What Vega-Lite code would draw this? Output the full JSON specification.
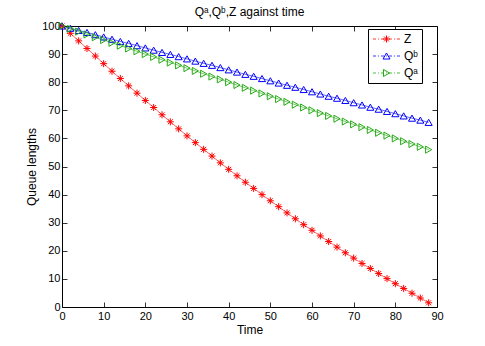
{
  "$schema": "https://vega.github.io/schema/vega-lite/v6.json",
  "width": 375,
  "height": 281,
  "autosize": {"type": "none"},
  "padding": {"left": 62, "top": 26, "right": 48, "bottom": 39},
  "background": "white",
  "title": {"text": "Qᵃ,Qᵇ,Z against time", "font": "Liberation Sans", "fontSize": 12, "fontWeight": "normal", "color": "black", "offset": 1},
  "config": {
    "view": {"stroke": "black", "strokeWidth": 1},
    "axis": {
      "domain": false,
      "grid": false,
      "tickSize": -5,
      "tickColor": "black",
      "tickWidth": 0.8,
      "labelFont": "Liberation Sans",
      "labelFontSize": 11,
      "labelColor": "black",
      "labelFlush": false,
      "labelOverlap": false,
      "labelBound": false,
      "titleFont": "Liberation Sans",
      "titleFontSize": 12,
      "titleFontWeight": "normal",
      "titleColor": "black"
    }
  },
  "data": {
    "values": [
      {"t": 0, "Z": 100, "Qb": 100, "Qa": 100},
      {"t": 2, "Z": 97.4, "Qb": 99.2, "Qa": 99},
      {"t": 4, "Z": 94.7, "Qb": 98.4, "Qa": 98},
      {"t": 6, "Z": 92.0, "Qb": 97.7, "Qa": 97},
      {"t": 8, "Z": 89.3, "Qb": 96.9, "Qa": 96},
      {"t": 10, "Z": 86.6, "Qb": 96.1, "Qa": 95},
      {"t": 12, "Z": 83.9, "Qb": 95.3, "Qa": 94},
      {"t": 14, "Z": 81.3, "Qb": 94.5, "Qa": 93},
      {"t": 16, "Z": 78.7, "Qb": 93.8, "Qa": 92},
      {"t": 18, "Z": 76.1, "Qb": 93.0, "Qa": 91},
      {"t": 20, "Z": 73.5, "Qb": 92.2, "Qa": 90},
      {"t": 22, "Z": 71.0, "Qb": 91.4, "Qa": 89},
      {"t": 24, "Z": 68.4, "Qb": 90.6, "Qa": 88},
      {"t": 26, "Z": 65.9, "Qb": 89.9, "Qa": 87},
      {"t": 28, "Z": 63.4, "Qb": 89.1, "Qa": 86},
      {"t": 30, "Z": 60.9, "Qb": 88.3, "Qa": 85},
      {"t": 32, "Z": 58.5, "Qb": 87.5, "Qa": 84},
      {"t": 34, "Z": 56.1, "Qb": 86.7, "Qa": 83},
      {"t": 36, "Z": 53.7, "Qb": 86.0, "Qa": 82},
      {"t": 38, "Z": 51.3, "Qb": 85.2, "Qa": 81},
      {"t": 40, "Z": 49.0, "Qb": 84.4, "Qa": 80},
      {"t": 42, "Z": 46.7, "Qb": 83.6, "Qa": 79},
      {"t": 44, "Z": 44.4, "Qb": 82.8, "Qa": 78},
      {"t": 46, "Z": 42.2, "Qb": 82.1, "Qa": 77},
      {"t": 48, "Z": 40.0, "Qb": 81.3, "Qa": 76},
      {"t": 50, "Z": 37.8, "Qb": 80.5, "Qa": 75},
      {"t": 52, "Z": 35.7, "Qb": 79.7, "Qa": 74},
      {"t": 54, "Z": 33.5, "Qb": 78.9, "Qa": 73},
      {"t": 56, "Z": 31.4, "Qb": 78.2, "Qa": 72},
      {"t": 58, "Z": 29.3, "Qb": 77.4, "Qa": 71},
      {"t": 60, "Z": 27.3, "Qb": 76.6, "Qa": 70},
      {"t": 62, "Z": 25.3, "Qb": 75.8, "Qa": 69},
      {"t": 64, "Z": 23.3, "Qb": 75.0, "Qa": 68},
      {"t": 66, "Z": 21.3, "Qb": 74.3, "Qa": 67},
      {"t": 68, "Z": 19.3, "Qb": 73.5, "Qa": 66},
      {"t": 70, "Z": 17.4, "Qb": 72.7, "Qa": 65},
      {"t": 72, "Z": 15.5, "Qb": 71.9, "Qa": 64},
      {"t": 74, "Z": 13.7, "Qb": 71.1, "Qa": 63},
      {"t": 76, "Z": 11.9, "Qb": 70.4, "Qa": 62},
      {"t": 78, "Z": 10.1, "Qb": 69.6, "Qa": 61},
      {"t": 80, "Z": 8.3, "Qb": 68.8, "Qa": 60},
      {"t": 82, "Z": 6.6, "Qb": 68.0, "Qa": 59},
      {"t": 84, "Z": 4.9, "Qb": 67.2, "Qa": 58},
      {"t": 86, "Z": 3.2, "Qb": 66.5, "Qa": 57},
      {"t": 88, "Z": 1.5, "Qb": 65.7, "Qa": 56}
    ]
  },
  "transform": [{"fold": ["Z", "Qb", "Qa"], "as": ["s", "v"]}],
  "layer": [
    {
      "mark": {"type": "line", "strokeWidth": 0.6},
      "encoding": {
        "x": {"field": "t", "type": "quantitative", "scale": {"domain": [0, 90], "nice": false},
              "axis": {"orient": "bottom", "title": "Time", "values": [0, 10, 20, 30, 40, 50, 60, 70, 80, 90], "labelPadding": 8, "titlePadding": 3}},
        "y": {"field": "v", "type": "quantitative", "scale": {"domain": [0, 100], "nice": false},
              "axis": {"orient": "left", "title": "Queue lengths", "values": [0, 10, 20, 30, 40, 50, 60, 70, 80, 90, 100], "labelPadding": 7, "titlePadding": 3}},
        "color": {
          "field": "s", "type": "nominal",
          "scale": {"domain": ["Z", "Qb", "Qa"], "range": ["#ff0000", "#0000ff", "#22aa11"]},
          "legend": {
            "title": null,
            "orient": "none",
            "legendX": 306,
            "legendY": 3,
            "padding": 4,
            "fillColor": "white",
            "strokeColor": "black",
            "symbolType": "M-1.43,0H6.29",
            "symbolSize": 49,
            "symbolStrokeWidth": 0.8,
            "symbolDash": [3, 2, 1, 2],
            "labelOffset": 20,
            "rowPadding": 5,
            "labelFont": "Liberation Sans",
            "labelFontSize": 12,
            "labelColor": "black",
            "labelExpr": "(datum.label == 'Qb' ? 'Qᵇ' : datum.label == 'Qa' ? 'Qᵃ' : datum.label) + '\u00a0\u00a0\u00a0\u00a0\u00a0\u00a0\u00a0\u00a0'"
          }
        }
      }
    },
    {
      "mark": {"type": "point", "filled": false, "size": 50, "strokeWidth": 1, "opacity": 1},
      "encoding": {
        "x": {"field": "t", "type": "quantitative",
              "axis": {"orient": "top", "title": null, "labels": false, "values": [0, 10, 20, 30, 40, 50, 60, 70, 80, 90]}},
        "y": {"field": "v", "type": "quantitative",
              "axis": {"orient": "right", "title": null, "labels": false, "values": [0, 10, 20, 30, 40, 50, 60, 70, 80, 90, 100]}},
        "color": {
          "field": "s", "type": "nominal",
          "legend": {
            "title": null,
            "orient": "none",
            "legendX": 314.5,
            "legendY": 3,
            "padding": 4,
            "symbolSize": 49,
            "symbolStrokeWidth": 1,
            "labelOffset": 10,
            "rowPadding": 5,
            "labelFont": "Liberation Sans",
            "labelFontSize": 12,
            "labelColor": "white",
            "labelOpacity": 0,
            "labelExpr": "'\u00a0'"
          }
        },
        "shape": {"field": "s", "type": "nominal",
                  "scale": {"domain": ["Z", "Qb", "Qa"], "range": ["M0,-1V1M-1,0H1M-0.7,-0.7L0.7,0.7M-0.7,0.7L0.7,-0.7", "triangle-up", "triangle-right"]},
                  "legend": null}
      }
    }
  ],
  "resolve": {"axis": {"x": "independent", "y": "independent"}, "legend": {"color": "independent", "shape": "independent"}}
}
